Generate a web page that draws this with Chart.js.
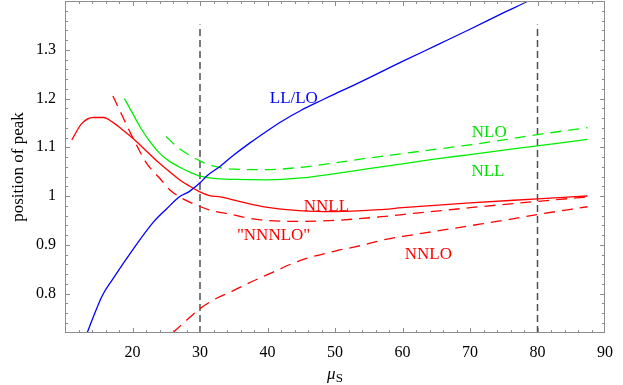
<!DOCTYPE html>
<html>
<head>
<meta charset="utf-8">
<script src="https://cdn.jsdelivr.net/npm/chart.js@4"></script>
<style>
  html, body { margin: 0; background: #fff; }
  #wrap { width: 623px; height: 385px; }
</style>
</head>
<body>
<div id="wrap"><canvas id="peak"></canvas></div>
<script>
// axis ticks
const xTicks = [20, 30, 40, 50, 60, 70, 80, 90];
const yTicks = [0.8, 0.9, 1, 1.1, 1.2, 1.3];
// dashed vertical markers (mu_S values)
const cutLines = [30, 80];
const cutRange = [0.719, 1.352];

// LL/LO (blue)
const llloX = [13.3, 14, 15.5, 17, 20, 23, 25, 27, 28.4, 30, 31, 33, 35, 37.3, 40, 42.2, 45, 48.1, 49.6, 53.5, 60, 65, 70, 75, 78.6, 80];
const llloY = [0.72, 0.745, 0.795, 0.828, 0.889, 0.945, 0.973, 0.999, 1.009, 1.027, 1.041, 1.061, 1.084, 1.108, 1.134, 1.154, 1.176, 1.197, 1.207, 1.232, 1.276, 1.309, 1.342, 1.376, 1.4, 1.412];

// NLL (green, solid)
const nllX = [18.8, 20, 21.1, 22.5, 24, 25.5, 27, 28.5, 30, 32, 35, 40, 45, 50, 55, 60, 65, 70, 75, 80, 87.4];
const nllY = [1.2, 1.17, 1.142, 1.113, 1.088, 1.071, 1.059, 1.049, 1.041, 1.036, 1.034, 1.033, 1.037, 1.046, 1.056, 1.066, 1.076, 1.085, 1.094, 1.103, 1.116];

// NLO (green, dashed)
const nloX = [25, 26.5, 28.4, 30, 31, 33, 35, 40, 45, 50, 55, 60, 65, 70, 75, 80, 87.4];
const nloY = [1.122, 1.102, 1.084, 1.072, 1.066, 1.058, 1.055, 1.054, 1.059, 1.068, 1.078, 1.087, 1.096, 1.105, 1.115, 1.126, 1.14];

// NNLL (red, solid)
const nnllX = [11, 12.5, 14.2, 15.7, 17.1, 18.5, 20.1, 22, 24, 25.5, 27, 28.5, 29.9, 31.4, 33, 35.8, 39.8, 44.7, 50, 56.5, 60, 70, 80, 87.4];
const nnllY = [1.115, 1.149, 1.161, 1.161, 1.151, 1.136, 1.118, 1.093, 1.067, 1.05, 1.033, 1.02, 1.009, 1.001, 0.998, 0.989, 0.977, 0.97, 0.968, 0.972, 0.976, 0.986, 0.994, 1.0];

// "NNNLO" (red, dashed)
const nnnloX = [17.1, 18.5, 20.1, 22.1, 24, 25.5, 27.5, 29.9, 32, 34.8, 37, 39.8, 44.7, 50, 56.5, 60, 70, 80, 87.4];
const nnnloY = [1.205, 1.164, 1.118, 1.067, 1.037, 1.013, 0.994, 0.979, 0.969, 0.962, 0.955, 0.95, 0.948, 0.95, 0.957, 0.962, 0.976, 0.989, 0.998];

// NNLO (red, dashed)
const nnloX = [26, 28, 29.9, 32, 34.8, 37, 40.7, 44.7, 50, 53.1, 57.5, 60, 65, 70, 75, 80, 87.4];
const nnloY = [0.72, 0.745, 0.768, 0.787, 0.805, 0.82, 0.843, 0.867, 0.887, 0.896, 0.911, 0.917, 0.928, 0.939, 0.95, 0.962, 0.978];

// curve labels: text, x, y, colour
const curveLabels = [
  ['LL/LO', 43.9, 1.2, '#0000ff'],
  ['NLO', 72.85, 1.131, '#00e000'],
  ['NLL', 72.66, 1.05, '#00e000'],
  ['NNLL', 48.72, 0.979, '#ff0000'],
  ['"NNNLO"', 40.9, 0.919, '#ff0000'],
  ['NNLO', 63.83, 0.879, '#ff0000']
];

const toPoints = (xs, ys) => xs.map((x, i) => ({ x: x, y: ys[i] }));

function curve(xs, ys, color, dashed) {
  return {
    data: toPoints(xs, ys),
    borderColor: color,
    borderWidth: 1.3,
    borderDash: dashed ? [11, 7] : [],
    pointRadius: 0,
    showLine: true,
    fill: false,
    cubicInterpolationMode: 'monotone'
  };
}

const datasets = [
  curve(llloX, llloY, '#0000ff', false),
  curve(nllX, nllY, '#00ee00', false),
  curve(nloX, nloY, '#00ee00', true),
  curve(nnllX, nnllY, '#ff0000', false),
  curve(nnnloX, nnnloY, '#ff0000', true),
  curve(nnloX, nnloY, '#ff0000', true)
];

cutLines.forEach(v => {
  datasets.push({
    data: cutRange.map(y => ({ x: v, y: y })),
    borderColor: '#505050',
    borderWidth: 1.5,
    borderDash: [7, 4],
    pointRadius: 0,
    showLine: true,
    fill: false
  });
});

const frameTicks = {
  id: 'frameTicks',
  afterDraw(chart) {
    const { ctx, chartArea: a, scales: { x, y } } = chart;
    ctx.save();
    ctx.strokeStyle = '#8c8c8c';
    ctx.lineWidth = 1;
    ctx.strokeRect(a.left + 0.5, a.top + 0.5, a.right - a.left - 1, a.bottom - a.top - 1);
    ctx.beginPath();
    for (let v = 12; v < 90; v += 2) {
      const px = Math.round(x.getPixelForValue(v)) + 0.5;
      const len = v % 10 === 0 ? 5 : 3;
      ctx.moveTo(px, a.bottom); ctx.lineTo(px, a.bottom - len);
      ctx.moveTo(px, a.top); ctx.lineTo(px, a.top + len);
    }
    for (let i = 37; i < 70; i++) {
      const py = Math.round(y.getPixelForValue(i * 0.02)) + 0.5;
      const len = i % 5 === 0 ? 5 : 3;
      ctx.moveTo(a.left, py); ctx.lineTo(a.left + len, py);
      ctx.moveTo(a.right, py); ctx.lineTo(a.right - len, py);
    }
    ctx.stroke();

    // curve names
    ctx.font = '17px "Liberation Serif"';
    ctx.textAlign = 'center';
    ctx.textBaseline = 'middle';
    curveLabels.forEach(([t, lx, ly, c]) => {
      ctx.fillStyle = c;
      ctx.fillText(t, x.getPixelForValue(lx), y.getPixelForValue(ly));
    });

    // x axis title: mu with subscript S
    ctx.fillStyle = '#000';
    ctx.textAlign = 'left';
    ctx.textBaseline = 'alphabetic';
    ctx.font = 'italic 17px "Liberation Serif"';
    const w1 = ctx.measureText('μ').width;
    ctx.font = '13px "Liberation Serif"';
    const w2 = ctx.measureText('S').width;
    const cx = (a.left + a.right) / 2;
    const x0 = cx - (w1 + w2) / 2;
    ctx.font = 'italic 17px "Liberation Serif"';
    ctx.fillText('μ', x0, 378.5);
    ctx.font = '13px "Liberation Serif"';
    ctx.fillText('S', x0 + w1, 381.5);
    ctx.restore();
  }
};

Chart.defaults.font.family = '"Liberation Serif"';
Chart.defaults.color = '#000';

new Chart(document.getElementById('peak'), {
  type: 'scatter',
  data: { datasets: datasets },
  options: {
    responsive: true,
    maintainAspectRatio: false,
    animation: false,
    layout: { padding: { top: 1, right: 18, left: 0, bottom: 0 } },
    plugins: { legend: { display: false }, tooltip: { enabled: false } },
    scales: {
      x: {
        type: 'linear',
        min: 10,
        max: 90,
        afterBuildTicks: s => { s.ticks = xTicks.map(v => ({ value: v })); },
        afterFit: s => { s.height = 52; s.paddingLeft = 0; s.paddingRight = 0; },
        grid: { display: false, drawTicks: false },
        border: { display: false },
        ticks: { autoSkip: false, maxRotation: 0, padding: 10, font: { size: 16 } }
      },
      y: {
        type: 'linear',
        min: 0.719,
        max: 1.4,
        afterBuildTicks: s => { s.ticks = yTicks.map(v => ({ value: v })); },
        afterFit: s => { s.width = 65; s.paddingTop = 0; s.paddingBottom = 0; },
        grid: { display: false, drawTicks: false },
        border: { display: false },
        ticks: { autoSkip: false, padding: 9, font: { size: 16 }, callback: v => String(v) },
        title: {
          display: true,
          text: 'position of peak',
          font: { size: 17 },
          padding: { top: 8, bottom: 0 }
        }
      }
    }
  },
  plugins: [frameTicks]
});
</script>
</body>
</html>
